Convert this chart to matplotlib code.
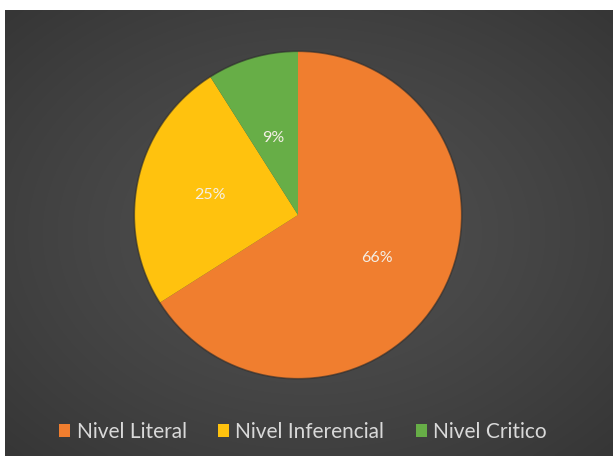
"""Niveles de comprension lectora"""
import numpy as np
import matplotlib.pyplot as plt

# datos del grafico
niveles = ['Nivel Literal', 'Nivel Inferencial', 'Nivel Critico']
porcentajes = [66, 25, 9]
colores = ['#F07E2F', '#FFC20E', '#67AE47']

plt.rcParams['font.family'] = ['Lato', 'DejaVu Sans']


def fondo(fig):
    # fondo gris oscuro con un degradado radial suave
    bg = fig.add_axes([5 / 613, 1 / 457, 608 / 613, 446 / 457])
    yy, xx = np.mgrid[-1:1:200j, -1:1:300j]
    d = np.clip(np.sqrt(xx ** 2 + yy ** 2) / np.sqrt(2), 0, 1)
    centro, borde = 0x50 / 255, 0x36 / 255
    g = centro + (borde - centro) * d ** 1.3
    bg.imshow(np.dstack([g, g, g]), aspect='auto', extent=(0, 1, 0, 1),
              interpolation='bicubic')
    bg.set_axis_off()


def main():
    fig = plt.figure(figsize=(6.13, 4.57), dpi=100)
    fondo(fig)

    ax = fig.add_axes([131 / 613, 75 / 457, 334 / 613, 334 / 457])
    wedges, texts, autotexts = ax.pie(porcentajes, colors=colores, startangle=90,
                                      counterclock=False, autopct='%d%%',
                                      pctdistance=0.55,
                                      wedgeprops=dict(linewidth=0))
    ax.set_xlim(-1.02, 1.02)
    ax.set_ylim(-1.02, 1.02)
    ax.add_patch(plt.Circle((0, 0), 1.0, fill=False, edgecolor='#2b2b2b',
                            linewidth=1.2, alpha=0.6))
    for t in autotexts:
        t.set_color('#f4efe6')
        t.set_fontsize(11.5)
    # la etiqueta del sector pequeno va mas arriba
    autotexts[2].set_position((-0.15, 0.47))

    fig.legend(wedges, niveles, loc='center', bbox_to_anchor=(303 / 613, 25 / 457),
               ncol=3, frameon=False, fontsize=15, labelcolor='#d9d9d9',
               handlelength=0.53, handleheight=0.53, handletextpad=0.3,
               columnspacing=1.5, borderpad=0)

    fig.savefig('out.png', dpi=100, facecolor='white')


if __name__ == '__main__':
    main()
